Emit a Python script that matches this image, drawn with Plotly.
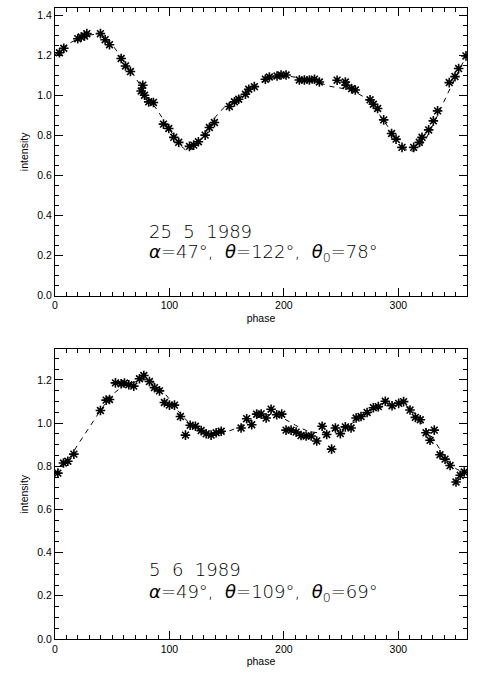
import plotly.graph_objects as go

# ---------------- data: panel 1 (25 5 1989) ----------------
phase1 = [3.9, 7.7, 19.9, 22.9, 25.8, 27.8, 39.7, 43.8, 47.6, 57.8, 61.6, 65.9,
          76.7, 75.3, 78.2, 81.9, 86.0, 94.8, 99.4, 103.8, 108.1, 117.5, 121.2,
          125.3, 131.2, 134.9, 139.3, 152.4, 156.8, 160.5, 166.4, 169.3, 174.2,
          183.8, 187.3, 194.0, 197.5, 201.9, 213.5, 217.9, 222.3, 226.7, 231.0,
          246.5, 253.7, 254.3, 259.2, 262.4, 275.3, 278.2, 281.9, 287.2, 294.1,
          298.0, 303.2, 313.4, 318.3, 320.7, 326.5, 330.6, 334.3, 344.5, 349.5,
          352.7, 359.1]
inten1 = [1.212, 1.234, 1.282, 1.290, 1.295, 1.307, 1.307, 1.277, 1.252, 1.183,
          1.146, 1.118, 1.050, 1.021, 1.000, 0.967, 0.964, 0.856, 0.834, 0.790,
          0.765, 0.745, 0.751, 0.768, 0.801, 0.839, 0.864, 0.944, 0.967, 0.980,
          1.005, 1.030, 1.043, 1.080, 1.091, 1.096, 1.101, 1.101, 1.076, 1.076,
          1.076, 1.080, 1.066, 1.075, 1.066, 1.050, 1.033, 1.026, 0.977, 0.955,
          0.934, 0.877, 0.809, 0.781, 0.740, 0.740, 0.765, 0.790, 0.827, 0.872,
          0.922, 1.063, 1.093, 1.133, 1.196]

model_phase1 = [0, 10, 20, 30, 40, 50, 60, 70, 80, 90, 100, 110, 115, 120, 130,
                140, 150, 160, 170, 180, 190, 200, 210, 220, 230, 240, 250, 260,
                270, 280, 290, 300, 310, 320, 330, 340, 350, 360]
model_inten1 = [1.20, 1.25, 1.28, 1.30, 1.30, 1.25, 1.17, 1.09, 1.00, 0.92, 0.83,
                0.75, 0.725, 0.735, 0.80, 0.89, 0.95, 0.99, 1.03, 1.065, 1.085,
                1.095, 1.09, 1.08, 1.065, 1.045, 1.035, 1.02, 0.99, 0.93, 0.85,
                0.77, 0.72, 0.75, 0.85, 0.97, 1.09, 1.20]

# ---------------- data: panel 2 (5 6 1989) ----------------
phase2 = [2.5, 7.4, 11.2, 16.5, 39.7, 44.7, 47.6, 52.8, 57.8, 60.7, 64.5, 68.8,
          73.8, 77.6, 82.5, 86.9, 91.3, 95.6, 100.0, 104.4, 109.6, 114.0, 118.1,
          122.7, 127.7, 132.1, 136.4, 140.8, 145.2, 162.6, 167.5, 171.9, 176.2,
          180.1, 184.5, 188.8, 193.7, 198.1, 201.9, 206.3, 210.7, 215.0, 219.4,
          223.8, 228.7, 233.4, 237.4, 241.7, 245.0, 249.3, 253.7, 258.7, 263.1,
          267.4, 272.7, 278.2, 282.5, 288.6, 294.5, 300.3, 304.6, 310.2, 314.9,
          319.2, 324.2, 327.7, 331.4, 336.4, 340.8, 345.2, 350.4, 354.1, 357.6]
inten2 = [0.768, 0.815, 0.823, 0.856, 1.058, 1.106, 1.109, 1.186, 1.182, 1.185,
          1.177, 1.171, 1.205, 1.220, 1.192, 1.164, 1.149, 1.095, 1.083, 1.083,
          1.030, 0.944, 0.990, 0.985, 0.965, 0.950, 0.944, 0.955, 0.962, 0.977,
          1.020, 0.992, 1.041, 1.042, 1.023, 1.064, 1.038, 1.041, 0.967, 0.967,
          0.958, 0.942, 0.940, 0.940, 0.917, 0.985, 0.947, 0.879, 0.977, 0.951,
          0.982, 0.977, 1.023, 1.030, 1.049, 1.071, 1.076, 1.101, 1.080, 1.091,
          1.099, 1.060, 1.026, 1.015, 0.955, 0.920, 0.967, 0.853, 0.833, 0.803,
          0.727, 0.758, 0.773]

model_phase2 = [0, 10, 20, 30, 40, 50, 60, 70, 80, 90, 100, 110, 120, 130, 140,
                150, 160, 170, 180, 190, 200, 210, 220, 230, 240, 250, 260, 270,
                280, 290, 300, 310, 320, 330, 340, 350, 360]
model_inten2 = [0.77, 0.82, 0.90, 0.98, 1.06, 1.13, 1.17, 1.19, 1.20, 1.17, 1.11,
                1.04, 0.99, 0.96, 0.95, 0.96, 0.98, 1.01, 1.03, 1.04, 1.02, 0.99,
                0.965, 0.955, 0.96, 0.98, 1.00, 1.03, 1.06, 1.08, 1.09, 1.07, 1.00,
                0.93, 0.85, 0.79, 0.77]

labels1 = ["25\u00a0\u00a05\u00a0\u00a01989",
           "<i>\u03b1</i>=47\u00b0,\u00a0\u00a0<i>\u03b8</i>=122\u00b0,\u00a0\u00a0<i>\u03b8</i><sub>0</sub>=78\u00b0"]
labels2 = ["5\u00a0\u00a06\u00a0\u00a01989",
           "<i>\u03b1</i>=49\u00b0,\u00a0\u00a0<i>\u03b8</i>=109\u00b0,\u00a0\u00a0<i>\u03b8</i><sub>0</sub>=69\u00b0"]

x_ticks = [0, 100, 200, 300]
x_range = [0, 360]
y_range1 = [0, 1.435]
y_range2 = [0, 1.341]

FONT = "Liberation Sans, Arial, Helvetica, sans-serif"

fig = go.Figure()
for i, (px, py, mx, my) in enumerate([(phase1, inten1, model_phase1, model_inten1),
                                      (phase2, inten2, model_phase2, model_inten2)]):
    xa = "x" if i == 0 else "x2"
    ya = "y" if i == 0 else "y2"
    fig.add_trace(go.Scatter(x=mx, y=my, mode="lines", xaxis=xa, yaxis=ya,
                             line=dict(color="black", width=1, dash="5px,5px", shape="spline"),
                             showlegend=False, hoverinfo="skip"))
    fig.add_trace(go.Scatter(x=px, y=py, mode="markers", xaxis=xa, yaxis=ya,
                             marker=dict(symbol="asterisk-open", size=8, color="black",
                                         line=dict(color="black", width=1.6)),
                             showlegend=False))

axis_common = dict(showline=True, linecolor="black", linewidth=1, mirror="ticks",
                   ticks="inside", ticklen=8, tickwidth=1, tickcolor="black",
                   showgrid=False, zeroline=False,
                   tickfont=dict(family=FONT, size=10.5, color="black"))

xaxis = dict(axis_common, range=x_range, tickvals=x_ticks,
             minor=dict(dtick=10, ticks="inside", ticklen=4, tickcolor="black", tickwidth=1),
             title=dict(text="phase", font=dict(family=FONT, size=10.5, color="black"), standoff=4))
yaxis = dict(axis_common, dtick=0.2, tickformat=".1f",
             minor=dict(dtick=0.05, ticks="inside", ticklen=4, tickcolor="black", tickwidth=1),
             title=dict(text="intensity", font=dict(family=FONT, size=10.5, color="black"), standoff=6))

fig.update_layout(
    width=481, height=673,
    margin=dict(l=55, r=14, t=7, b=30),
    paper_bgcolor="white", plot_bgcolor="white",
    xaxis=dict(xaxis, domain=[0, 1], anchor="y"),
    yaxis=dict(yaxis, domain=[0.544, 1.0], range=y_range1, anchor="x"),
    xaxis2=dict(xaxis, domain=[0, 1], anchor="y2"),
    yaxis2=dict(yaxis, domain=[0, 0.459], range=y_range2, anchor="x2"),
)

ann_font = dict(family="DejaVu Sans", size=18, color="black", weight=200)
for xr, yr, labs in [("x", "y", labels1), ("x2", "y2", labels2)]:
    fig.add_annotation(x=80.5, y=0.322, xref=xr, yref=yr, text=labs[0], showarrow=False,
                       xanchor="left", yanchor="middle", font=ann_font)
    fig.add_annotation(x=80.5, y=0.212, xref=xr, yref=yr, text=labs[1], showarrow=False,
                       xanchor="left", yanchor="middle", font=ann_font)

fig.write_html("out.html")
